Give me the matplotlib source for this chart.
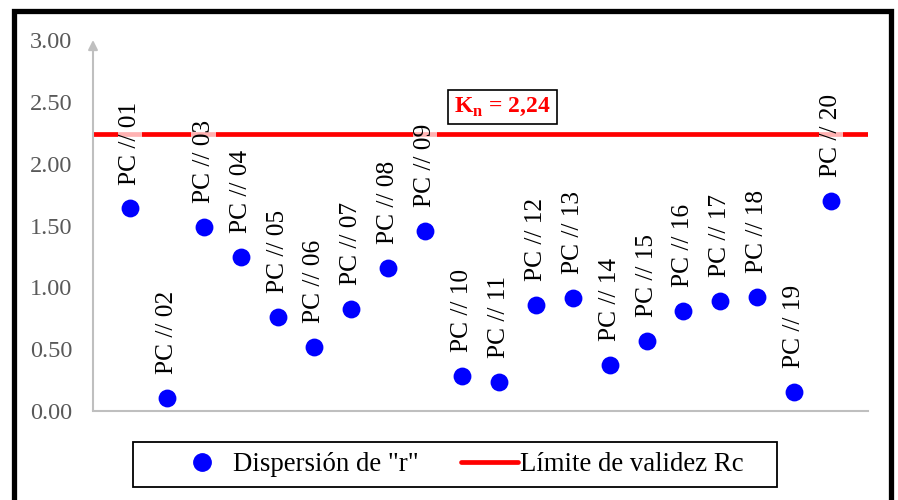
import matplotlib
matplotlib.use("Agg")
import matplotlib.pyplot as plt
from matplotlib.patches import Rectangle
from matplotlib.lines import Line2D

plt.rcParams["font.family"] = ["Liberation Serif", "DejaVu Serif"]
plt.rcParams["mathtext.fontset"] = "custom"
plt.rcParams["mathtext.rm"] = "Liberation Serif"
plt.rcParams["mathtext.bf"] = "Liberation Serif:bold"

# Data
labels = ["PC // %02d" % i for i in range(1, 21)]
x_pos = list(range(1, 21))
r_values = [1.64, 0.105, 1.49, 1.245, 0.76, 0.517, 0.825, 1.156, 1.455, 0.283,
            0.234, 0.857, 0.913, 0.372, 0.566, 0.808, 0.889, 0.922, 0.154, 1.70]
kn_limit = 2.24
y_ticks = [0.0, 0.5, 1.0, 1.5, 2.0, 2.5, 3.0]

W, H = 898, 500
fig = plt.figure(figsize=(W / 100, H / 100), dpi=100)
ax = fig.add_axes([93 / W, 1 - 411 / H, (868 - 93) / W, (411 - 40) / H])

ax.set_xlim(0, 21)
ax.set_ylim(0, 3)

axis_grey = "#BFBFBF"
for side in ["top", "right", "left"]:
    ax.spines[side].set_visible(False)
ax.spines["bottom"].set_color(axis_grey)
ax.spines["bottom"].set_linewidth(1.5)
ax.annotate("", xy=(0, 1.0), xytext=(0, 0), xycoords="axes fraction",
            arrowprops=dict(arrowstyle="-|>", color=axis_grey, lw=1.5,
                            mutation_scale=14, shrinkA=0, shrinkB=0))

ax.set_xticks([])
ax.set_yticks(y_ticks)
ax.set_yticklabels(["%.2f" % v for v in y_ticks])
ax.tick_params(axis="y", length=0, pad=15, labelsize=17.5, labelcolor="#595959")

# Validity limit
ax.axhline(kn_limit, color="red", lw=3.4, zorder=2, solid_capstyle="round")

# Dispersion points
ax.scatter(x_pos, r_values, s=165, color="blue", zorder=3, linewidths=0)

for xi, yi, lab in zip(x_pos, r_values, labels):
    ax.annotate(lab, (xi, yi), xytext=(0, 17), textcoords="offset points",
                rotation=90, ha="center", va="bottom", fontsize=18.3, color="black",
                zorder=4,
                bbox=dict(boxstyle="square,pad=0.05", fc="white", ec="none", alpha=0.7))

ax.text(11.1, 2.46, "K$_\\mathbf{n}$ = 2,24", color="red", fontsize=17,
        fontweight="bold", ha="center", va="center", zorder=5,
        bbox=dict(boxstyle="square,pad=0.25", fc="white", ec="black", lw=1.2))

# Legend
handles = [
    Line2D([], [], marker="o", color="blue", linestyle="none", markersize=12.5),
    Line2D([], [], color="red", lw=3.4, solid_capstyle="round"),
]
fig.legend(handles, ['Dispersión de "r"', "Límite de validez Rc"],
           loc="center", bbox_to_anchor=((133 + 777) / 2 / W + 4 / W, 1 - 464.5 / H),
           ncol=2, frameon=False, fontsize=19.3, handlelength=2.1,
           handletextpad=0.1, columnspacing=1.6)
fig.patches.append(Rectangle((133 / W, 1 - 487 / H), (777 - 133) / W, 45 / H,
                             transform=fig.transFigure, fill=False,
                             ec="black", lw=1.3))

# Outer frame
fig.patches.append(Rectangle((13.5 / W, -0.1), (891 - 13.5) / W, 1.1 - 11 / H,
                             transform=fig.transFigure, fill=False,
                             ec="black", lw=3.8, clip_on=False))

fig.savefig("out.png", dpi=100)
